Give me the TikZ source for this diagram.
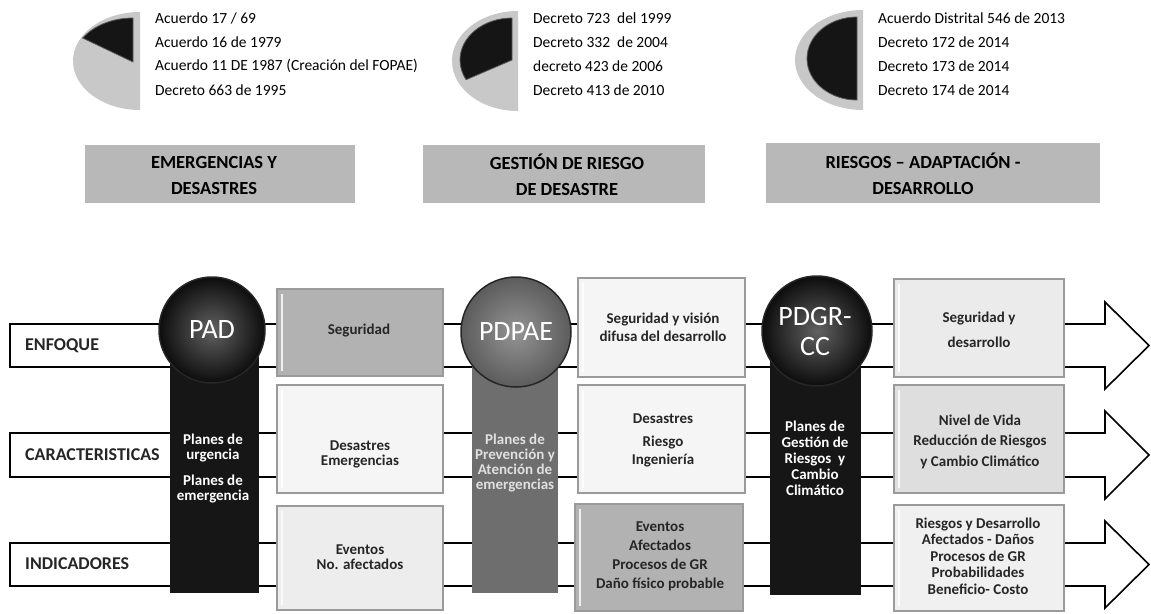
\documentclass[tikz,border=0pt]{standalone}
\usepackage{fontspec}
\setmainfont{Carlito}
\usetikzlibrary{calc}
\definecolor{piegray}{HTML}{C8C8C8}
\definecolor{piedark}{HTML}{151515}
\definecolor{hdrgray}{HTML}{B8B8B8}
\definecolor{colblack}{HTML}{161616}
\definecolor{colgray}{HTML}{6E6E6E}
\definecolor{boxedge}{HTML}{9A9A9A}
\definecolor{boxwhite}{HTML}{F5F5F5}
\definecolor{boxmid}{HTML}{B2B2B2}
\begin{document}
\begin{tikzpicture}[x=1pt,y=-1pt,
 lst/.style={anchor=west,inner sep=0pt,font=\fontsize{15.5}{18}\selectfont},
 hdr/.style={fill=hdrgray,inner sep=0pt},
 hdrtxt/.style={align=center,inner sep=0pt,font=\bfseries\fontsize{18.5}{26}\selectfont},
 rowarrow/.style={draw=black,fill=white,line width=1.6pt,line join=miter},
 lbl/.style={anchor=west,inner sep=0pt,font=\bfseries\fontsize{18}{20}\selectfont,text=black!85},
 colbar/.style={inner sep=0pt},
 disc/.style={circle,inner sep=0pt,draw=black!85,line width=1.5pt},
 disctxt/.style={text=white,align=center,inner sep=0pt,font=\fontsize{28}{30}\selectfont},
 coltxt/.style={text=white,align=center,inner sep=0pt,font=\bfseries\fontsize{15}{15}\selectfont},
 box/.style={draw=boxedge,line width=1.4pt,inner sep=0pt,
   path picture={\draw[white,line width=2.5pt,opacity=0.8]
     ([shift={(5,5)}]path picture bounding box.north west) --
     ([shift={(5,-5)}]path picture bounding box.south west);}},
 boxtxt/.style={align=center,inner sep=0pt,text=black!85},
]
\useasboundingbox (0,0) rectangle (1151,613);

% ---------- pies ----------
\fill[piegray] (140,12) arc[start angle=270,end angle=90,x radius=67,y radius=49] -- cycle;
\filldraw[piedark,draw=black!65,line width=0.8pt] (133,62) -- ++(270:60 and 44)
  arc[start angle=270,end angle=213,x radius=60,y radius=44] -- cycle;
\fill[piegray] (518,11) arc[start angle=270,end angle=90,x radius=66,y radius=50] -- cycle;
\filldraw[piedark,draw=black!65,line width=0.8pt] (512,60) -- ++(270:52 and 42)
  arc[start angle=270,end angle=152,x radius=52,y radius=42] -- cycle;
\fill[piegray] (863,10) arc[start angle=270,end angle=90,x radius=68,y radius=50] -- cycle;
\filldraw[piedark,draw=black!65,line width=0.8pt] (857,17) arc[start angle=270,end angle=90,x radius=50,y radius=41.5] -- cycle;

% ---------- lists ----------
\node[lst] (l11) at (155,18) {Acuerdo 17 / 69};
\node[lst] (l12) at (155,42) {Acuerdo 16 de 1979};
\node[lst] (l13) at (155,66) {Acuerdo 11 DE 1987 (Creación del FOPAE)};
\node[lst] (l14) at (155,90) {Decreto 663 de 1995};
\node[lst] (l21) at (533,18) {Decreto 723\ \ del 1999};
\node[lst] (l22) at (533,42) {Decreto 332\ \ de 2004};
\node[lst] (l23) at (533,66) {decreto 423 de 2006};
\node[lst] (l24) at (533,90) {Decreto 413 de 2010};
\node[lst] (l31) at (878,18) {Acuerdo Distrital 546 de 2013};
\node[lst] (l32) at (878,42) {Decreto 172 de 2014};
\node[lst] (l33) at (878,66) {Decreto 173 de 2014};
\node[lst] (l34) at (878,90) {Decreto 174 de 2014};

% ---------- headers ----------
\node[hdr,minimum width=270pt,minimum height=58pt] (h1) at (220,174) {};
\node[hdr,minimum width=282pt,minimum height=58pt] (h2) at (564,174) {};
\node[hdr,minimum width=334pt,minimum height=60pt] (h3) at (933,173) {};
\node[hdrtxt] (ht1) at (214,175) {EMERGENCIAS Y\\DESASTRES};
\node[hdrtxt] (ht2) at (567,175) {GESTIÓN DE RIESGO\\DE DESASTRE};
\node[hdrtxt] (ht3) at (923,174) {RIESGOS – ADAPTACIÓN -\\DESARROLLO};

% ---------- row arrows ----------
\draw[rowarrow] (10,324) -- (1105,324) -- (1105,302) -- (1149,345.5) -- (1105,389) -- (1105,367) -- (10,367) -- cycle;
\draw[rowarrow] (10,433) -- (1105,433) -- (1105,411) -- (1149,455) -- (1105,499) -- (1105,477) -- (10,477) -- cycle;
\draw[rowarrow] (10,543) -- (1105,543) -- (1105,521) -- (1149,564.5) -- (1105,608) -- (1105,586) -- (10,586) -- cycle;
\node[lbl] (r1) at (25,346) {ENFOQUE};
\node[lbl] (r2) at (25,455) {CARACTERISTICAS};
\node[lbl] (r3) at (25,564) {INDICADORES};

% ---------- columns ----------
\node[colbar,fill=colblack,minimum width=89pt,minimum height=258pt] (c1) at (214.5,464) {};
\node[colbar,fill=colgray,minimum width=86pt,minimum height=258pt] (c2) at (515,464) {};
\node[colbar,fill=colblack,minimum width=91pt,minimum height=260pt] (c3) at (815.5,465) {};

% ---------- discs ----------
\node[disc,minimum size=106pt,inner color=black!62,outer color=black!95] (pad) at (212,330) {};
\node[disc,minimum size=110pt,inner color=black!42,outer color=black!64] (pdpae) at (516,332) {};
\node[disc,minimum size=110pt,inner color=black!62,outer color=black!95] (pdgr) at (817,331) {};
\node[disctxt] (padt) at (pad.center) {PAD};
\node[disctxt] (pdpaet) at (pdpae.center) {PDPAE};
\node[disctxt] (pdgrt) at (815,332) {PDGR-\\CC};

% ---------- boxes ----------
\node[box,fill=boxmid,minimum width=166pt,minimum height=87pt] (b11) at (360,332.5) {};
\node[box,fill=boxwhite,minimum width=166pt,minimum height=108pt] (b12) at (360,439) {};
\node[box,fill=black!7,minimum width=166pt,minimum height=104pt] (b13) at (360,558) {};
\node[box,fill=boxwhite,minimum width=167pt,minimum height=99pt] (b21) at (661.5,327.5) {};
\node[box,fill=boxwhite,minimum width=167pt,minimum height=108pt] (b22) at (661.5,439) {};
\node[box,fill=boxmid,minimum width=168pt,minimum height=107pt] (b23) at (659,557.5) {};
\node[box,fill=black!8,minimum width=170pt,minimum height=98pt] (b31) at (979,328) {};
\node[box,fill=black!13,minimum width=170pt,minimum height=108pt] (b32) at (979,439) {};
\node[box,fill=black!6,minimum width=170pt,minimum height=106pt] (b33) at (979,558) {};

% ---------- box texts ----------
\node[boxtxt,font=\bfseries\fontsize{15}{15}\selectfont] (t11) at (359,331) {Seguridad};
\node[boxtxt,font=\bfseries\fontsize{15}{15}\selectfont] (t12) at (360,454.5) {Desastres\\Emergencias};
\node[boxtxt,font=\bfseries\fontsize{15}{15}\selectfont] (t13) at (360,557.5) {Eventos\\No. afectados};
\node[boxtxt,font=\bfseries\fontsize{15}{18}\selectfont] (t21) at (663,327) {Seguridad y visión\\difusa del desarrollo};
\node[boxtxt,font=\bfseries\fontsize{15}{18}\selectfont] (t22) at (663,440) {Desastres\\[5pt]Riesgo\\Ingeniería};
\node[boxtxt,font=\bfseries\fontsize{15}{19}\selectfont] (t23) at (660,556.5) {Eventos\\Afectados\\Procesos de GR\\Daño físico probable};
\node[boxtxt,font=\bfseries\fontsize{15}{25}\selectfont] (t31) at (979,329.5) {Seguridad y\\desarrollo};
\node[boxtxt,font=\bfseries\fontsize{15}{20.5}\selectfont] (t32) at (980,441.5) {Nivel de Vida\\Reducción de Riesgos\\y Cambio Climático};
\node[boxtxt,font=\bfseries\fontsize{15}{16.5}\selectfont] (t33) at (978,556) {Riesgos y Desarrollo\\Afectados - Daños\\Procesos de GR\\Probabilidades\\Beneficio- Costo};

% ---------- column texts ----------
\node[coltxt] (ct1) at (213,469) {Planes de\\urgencia\\[11pt]Planes de\\emergencia};
\node[coltxt,text=white!88!black] (ct2) at (515,463) {Planes de\\Prevención y\\Atención de\\emergencias};
\node[coltxt,font=\bfseries\fontsize{15}{16}\selectfont] (ct3) at (815,458.5) {Planes de\\Gestión de\\Riesgos\ \ y\\Cambio\\Climático};
\end{tikzpicture}
\end{document}
